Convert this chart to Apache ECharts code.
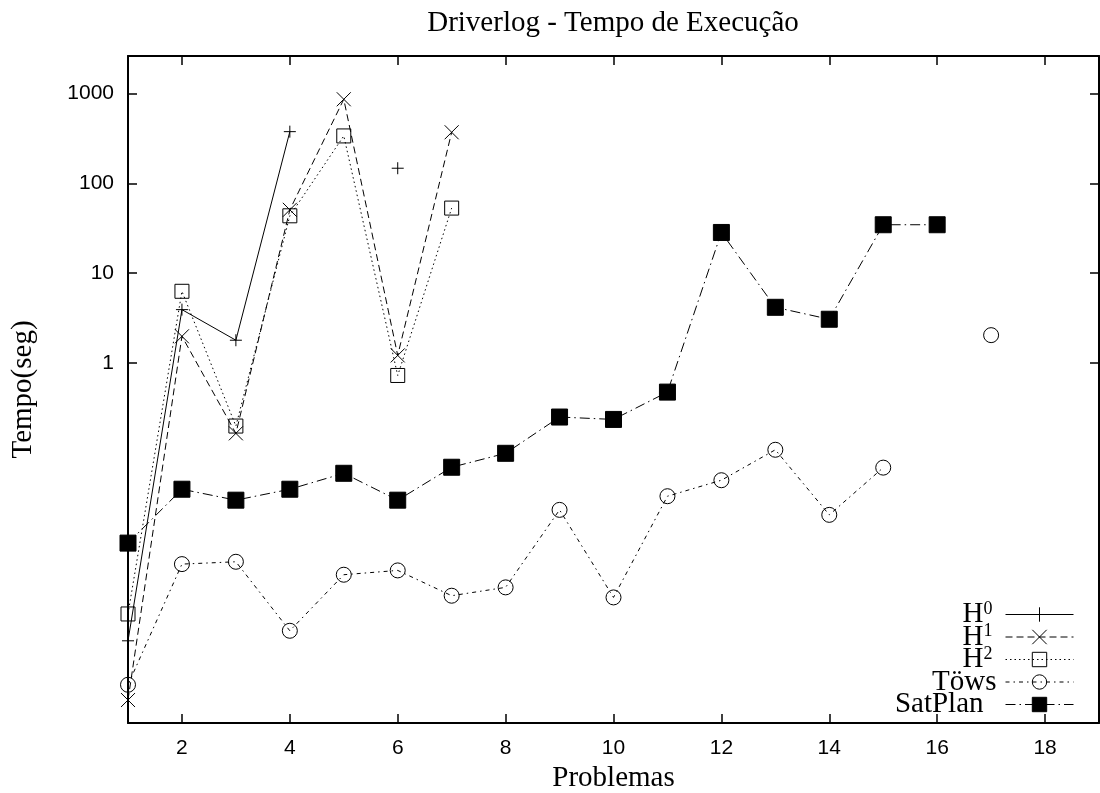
<!DOCTYPE html>
<html>
<head>
<meta charset="utf-8">
<script src="https://cdn.jsdelivr.net/npm/echarts@6.0.0/dist/echarts.min.js"></script>
<style>
  html, body { margin: 0; padding: 0; background: #fff; }
  #chart { width: 1100px; height: 793px; }
</style>
</head>
<body>
<div id="chart"></div>
<script>
const problems = [1, 2, 3, 4, 5, 6, 7, 8, 9, 10, 11, 12, 13, 14, 15, 16, 17]
const xTicks = [2, 4, 6, 8, 10, 12, 14, 16, 18]
const yTicks = [1, 10, 100, 1000]

const h0 = [0.00082, 3.94, 1.8, 375, null, 147]
const h1 = [0.00018, 1.99, 0.166, 50.7, 859, 1.22, 369]
const h2 = [0.00163, 6.3, 0.2, 43.5, 336, 0.73, 53]
const tows = [0.000266, 0.00584, 0.0062, 0.00106, 0.00445, 0.00497, 0.0026, 0.00322, 0.0234, 0.00249, 0.0332, 0.05, 0.109, 0.0206, 0.069, null, 2.05]
const satplan = [0.01, 0.0397, 0.03, 0.0397, 0.0597, 0.03, 0.0697, 0.0996, 0.252, 0.237, 0.477, 28.4, 4.18, 3.08, 34.6, 34.6]

const serif = 'Liberation Serif'
const sans = 'Liberation Sans'

const plusSymbol = 'path://M5,0 L5,10 M0,5 L10,5'
const crossSymbol = 'path://M0,0 L10,10 M10,0 L0,10'

function pairs(values) {
  return values.map((v, i) => [problems[i], v == null ? '-' : v])
}

function lineSeries(name, values, symbol, size, dash, fill) {
  return {
    name,
    type: 'line',
    data: pairs(values),
    symbol,
    symbolSize: size,
    showAllSymbol: true,
    lineStyle: { color: '#000', width: 1, type: dash },
    itemStyle: { color: fill, borderColor: '#000', borderWidth: 1 },
    emphasis: { disabled: true },
  }
}

// gnuplot key: right-aligned text, superscripts on the H labels
function legendLabel(name) {
  if (name[0] === 'H' && name.length === 2) return `{b|H}{s|${name[1]}}`
  return name === 'Töws' ? `{b|${name}}{p1|}` : `{b|${name}}{p2|}`
}

const frame = { show: true, lineStyle: { color: '#000', width: 2 } }
const tick = { inside: true, length: 9, lineStyle: { color: '#000', width: 1.5 } }

const yAxisBase = {
  type: 'log',
  logBase: 10,
  min: 0.0001,
  max: 2600,
  axisLine: frame,
  splitLine: { show: false },
  axisTick: { ...tick, customValues: yTicks },
}

const xAxisBase = {
  type: 'value',
  min: 1,
  max: 19,
  axisLine: frame,
  splitLine: { show: false },
  axisTick: { ...tick, customValues: xTicks },
}

const chart = echarts.init(document.getElementById('chart'), null, { renderer: 'canvas' })
chart.setOption({
  animation: false,
  backgroundColor: '#fff',
  title: {
    text: 'Driverlog - Tempo de Execução',
    left: 613,
    top: 9,
    padding: 0,
    textAlign: 'center',
    textStyle: { fontFamily: serif, fontSize: 29, fontWeight: 'normal', color: '#000' },
  },
  grid: { left: 128, right: 1, top: 56, bottom: 70, outerBoundsMode: 'none' },
  legend: {
    orient: 'vertical',
    align: 'right',
    right: 26,
    top: 600,
    padding: 0,
    itemWidth: 68,
    itemHeight: 18,
    itemGap: -6.5,
    selectedMode: false,
    itemStyle: { borderWidth: 1 },
    lineStyle: { width: 1 },
    formatter: legendLabel,
    textStyle: {
      color: '#000',
      rich: {
        b: { fontFamily: serif, fontSize: 29, color: '#000' },
        s: { fontFamily: serif, fontSize: 18, color: '#000', padding: [0, 8, 11, 0] },
        p1: { width: 4 },
        p2: { width: 17 },
      },
    },
  },
  xAxis: [
    {
      ...xAxisBase,
      position: 'bottom',
      name: 'Problemas',
      nameLocation: 'middle',
      nameGap: 33,
      nameTextStyle: { fontFamily: serif, fontSize: 29, color: '#000' },
      axisLabel: { customValues: xTicks, margin: 15, fontFamily: sans, fontSize: 21, color: '#000' },
    },
    { ...xAxisBase, position: 'top', axisLabel: { show: false } },
  ],
  yAxis: [
    {
      ...yAxisBase,
      position: 'left',
      name: 'Tempo(seg)',
      nameLocation: 'middle',
      nameGap: 90,
      nameTextStyle: { fontFamily: serif, fontSize: 29, color: '#000' },
      axisLabel: {
        customValues: yTicks,
        margin: 14,
        fontFamily: sans,
        fontSize: 21,
        color: '#000',
        formatter: (v) => String(Math.round(v)),
      },
    },
    { ...yAxisBase, position: 'right', axisLabel: { show: false } },
  ],
  series: [
    lineSeries('H0', h0, plusSymbol, 12, 'solid', 'none'),
    lineSeries('H1', h1, crossSymbol, 14, [7, 4], 'none'),
    lineSeries('H2', h2, 'rect', 14, [1.5, 3], 'transparent'),
    lineSeries('Töws', tows, 'circle', 15, [4, 4, 1.5, 4], 'transparent'),
    lineSeries('SatPlan', satplan, 'rect', 16, [10, 4, 1.5, 4], '#000'),
  ],
})
</script>
</body>
</html>
